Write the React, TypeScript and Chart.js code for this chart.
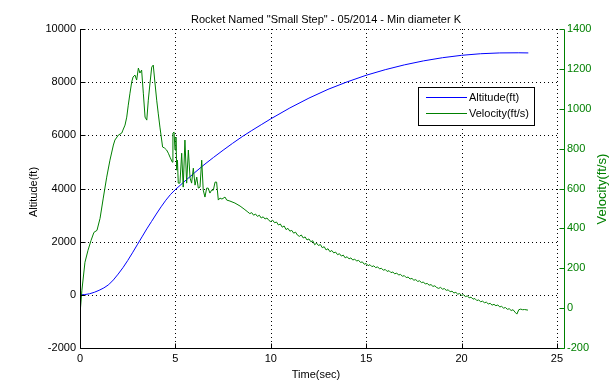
import React, { useEffect, useRef } from "react";
import { Chart, registerables } from "chart.js";

Chart.register(...registerables);

const chartTitle = 'Rocket Named "Small Step" - 05/2014 - Min diameter K';
const xLabel = "Time(sec)";
const altLabel = "Altitude(ft)";
const velLabel = "Velocity(ft/s)";
const seriesNames = ["Altitude(ft)", "Velocity(ft/s)"];

const xTicks = [0, 5, 10, 15, 20, 25];
const altTicks = [-2000, 0, 2000, 4000, 6000, 8000, 10000];
const velTicks = [-200, 0, 200, 400, 600, 800, 1000, 1200, 1400];

const altTime = [0, 0.25, 0.5, 0.75, 1, 1.25, 1.5, 1.75, 2, 2.25, 2.5, 2.75, 3, 3.25, 3.5, 3.75, 4, 4.25, 4.5, 4.75, 5, 5.5, 6, 6.5, 7, 7.5, 8, 8.5, 9, 9.5, 10, 11, 12, 13, 14, 15, 16, 17, 18, 19, 20, 21, 22, 23, 23.5];
const altValues = [0, 10, 40, 95, 170, 260, 380, 560, 780, 1020, 1290, 1580, 1880, 2180, 2480, 2760, 3040, 3310, 3560, 3780, 3960, 4280, 4590, 4890, 5170, 5440, 5700, 5950, 6180, 6400, 6620, 7030, 7400, 7730, 8010, 8260, 8470, 8650, 8800, 8920, 9010, 9070, 9100, 9105, 9100];

const velTime = [0, 0.1, 0.26, 0.42, 0.58, 0.73, 0.89, 1.05, 1.22, 1.4, 1.57, 1.75, 1.83, 2.01, 2.19, 2.25, 2.36, 2.45, 2.53, 2.62, 2.71, 2.78, 2.88, 2.97, 3.06, 3.14, 3.23, 3.32, 3.41, 3.5, 3.58, 3.67, 3.76, 3.84, 3.93, 4.02, 4.1, 4.19, 4.33, 4.43, 4.54, 4.63, 4.72, 4.84, 4.87, 4.93, 4.98, 5.03, 5.07, 5.11, 5.15, 5.24, 5.33, 5.41, 5.5, 5.59, 5.68, 5.77, 5.85, 5.94, 6.03, 6.12, 6.2, 6.29, 6.38, 6.46, 6.55, 6.64, 6.72, 6.81, 6.9, 6.99, 7.08, 7.16, 7.25, 7.34, 7.44, 7.6, 7.69, 7.86, 8.12, 8.39, 8.6,
  8.8, 8.9, 9.0, 9.1, 9.2, 9.3, 9.4, 9.5, 9.6, 9.7, 9.8, 9.9, 10.0, 10.1, 10.2, 10.3, 10.4, 10.5, 10.6, 10.7, 10.8, 10.9, 11.0, 11.1, 11.2, 11.3, 11.4, 11.5, 11.6, 11.7, 11.8, 11.9, 12.0, 12.1, 12.2, 12.3, 12.4, 12.5, 12.6, 12.7, 12.8, 12.9, 13.0, 13.1, 13.2, 13.3, 13.4, 13.5, 13.6, 13.7, 13.8, 13.9, 14.0, 14.1, 14.2, 14.3, 14.4, 14.5, 14.6, 14.7, 14.8, 14.9, 15.0, 15.1, 15.2, 15.3, 15.4, 15.5, 15.6, 15.7, 15.8, 15.9, 16.0, 16.1, 16.2, 16.3, 16.4, 16.5, 16.6, 16.7, 16.8, 16.9, 17.0, 17.1, 17.2, 17.3, 17.4, 17.5, 17.6, 17.7, 17.8, 17.9, 18.0, 18.1, 18.2, 18.3, 18.4, 18.5, 18.6, 18.7, 18.8, 18.9, 19.0, 19.1, 19.2, 19.3, 19.4, 19.5, 19.6, 19.7, 19.8, 19.9, 20.0, 20.1, 20.2, 20.3, 20.4, 20.5, 20.6, 20.7, 20.8, 20.9, 21.0, 21.1, 21.2, 21.3, 21.4, 21.5, 21.6, 21.7, 21.8, 21.9, 22.0, 22.1, 22.2, 22.3, 22.4, 22.5, 22.6, 22.7, 22.8, 22.9, 23.0, 23.1, 23.2, 23.3, 23.48];
const velValues = [-30, 90, 230, 290, 340, 380, 390, 450, 552, 657, 742, 818, 843, 868, 878, 893, 918, 958, 1018, 1078, 1134, 1159, 1169, 1144, 1204, 1179, 1194, 1078, 958, 943, 1043, 1129, 1209, 1219, 1129, 1043, 978, 908, 808, 803, 793, 777, 757, 732, 878, 883, 793, 858, 692, 742, 627, 627, 777, 607, 843, 627, 793, 652, 627, 702, 617, 657, 602, 607, 742, 592, 557, 602, 602, 577, 592, 592, 632, 632, 542, 552, 547, 557, 542, 537, 527, 512, 497,
  482, 474, 479, 466, 472, 460, 466, 452, 458, 447, 452, 440, 434, 441, 428, 432, 417, 422, 406, 412, 394, 400, 386, 390, 376, 381, 366, 360, 367, 352, 357, 342, 347, 333, 338, 318, 326, 314, 319, 303, 308, 292, 298, 283, 289, 277, 281, 268, 273, 261, 266, 252, 258, 247, 252, 241, 246, 236, 240, 229, 232, 220, 224, 213, 218, 208, 212, 203, 207, 197, 200, 190, 194, 184, 188, 178, 181, 172, 176, 166, 169, 160, 163, 153, 156, 146, 149, 140, 143, 134, 137, 128, 131, 121, 124, 115, 118, 109, 112, 103, 99, 104, 95, 98, 89, 92, 82, 85, 76, 79, 70, 73, 64, 67, 58, 61, 52, 55, 45, 48, 38, 41, 32, 35, 27, 30, 21, 24, 15, 19, 12, 16, 6, 9, 0, 3, -6, -3, -12, -8, -20, -30, -8, -5, -8, -7, -10];

const BLUE = "#0000ff";
const GREEN = "#008000";
const seriesColors = [BLUE, GREEN];
const FONT = "'Liberation Sans', Arial, Helvetica, sans-serif";

const framePlugin = {
  id: "matlabFrame",
  beforeDatasetsDraw(chart: any) {
    const { ctx, chartArea } = chart;
    const xs = chart.scales.x;
    const ys = chart.scales.y;
    const right25 = Math.round(xs.getPixelForValue(25)) + 0.5;
    ctx.save();
    ctx.strokeStyle = "#000000";
    ctx.lineWidth = 1;
    ctx.setLineDash([1, 3]);
    xTicks.forEach((v) => {
      if (v === 0) return;
      const px = Math.round(xs.getPixelForValue(v)) + 0.5;
      ctx.beginPath();
      ctx.moveTo(px, chartArea.top);
      ctx.lineTo(px, chartArea.bottom);
      ctx.stroke();
    });
    altTicks.forEach((v) => {
      if (v === altTicks[0]) return;
      const py = Math.round(ys.getPixelForValue(v)) + 0.5;
      ctx.beginPath();
      ctx.moveTo(chartArea.left, py);
      ctx.lineTo(right25, py);
      ctx.stroke();
    });
    ctx.restore();
  },
  afterDraw(chart: any) {
    const { ctx, chartArea } = chart;
    const xs = chart.scales.x;
    const ys = chart.scales.y;
    const y1 = chart.scales.y1;
    const L = Math.round(chartArea.left) + 0.5;
    const R = Math.round(chartArea.right) + 0.5;
    const T = Math.round(chartArea.top) + 0.5;
    const B = Math.round(chartArea.bottom) + 0.5;
    const tl = 5;
    ctx.save();
    ctx.setLineDash([]);
    ctx.lineWidth = 1;
    ctx.strokeStyle = "#000000";
    ctx.beginPath();
    ctx.moveTo(L, T);
    ctx.lineTo(L, B);
    ctx.moveTo(L, B);
    ctx.lineTo(R, B);
    altTicks.forEach((v) => {
      const py = Math.round(ys.getPixelForValue(v)) + 0.5;
      ctx.moveTo(L, py);
      ctx.lineTo(L + tl, py);
    });
    xTicks.forEach((v) => {
      const px = Math.round(xs.getPixelForValue(v)) + 0.5;
      ctx.moveTo(px, B);
      ctx.lineTo(px, B - tl);
    });
    ctx.stroke();
    ctx.strokeStyle = GREEN;
    ctx.beginPath();
    ctx.moveTo(R, T);
    ctx.lineTo(R, B);
    velTicks.forEach((v) => {
      const py = Math.round(y1.getPixelForValue(v)) + 0.5;
      ctx.moveTo(R, py);
      ctx.lineTo(R - tl, py);
    });
    ctx.stroke();

    ctx.fillStyle = "#000000";
    ctx.font = `11px ${FONT}`;
    ctx.textAlign = "center";
    ctx.textBaseline = "middle";
    ctx.fillText(chartTitle, 326, 20);
    ctx.fillText(xLabel, 316, 375);
    ctx.save();
    ctx.translate(34, 192);
    ctx.rotate(-Math.PI / 2);
    ctx.fillText(altLabel, 0, 0);
    ctx.restore();
    ctx.save();
    ctx.fillStyle = GREEN;
    ctx.font = `13px ${FONT}`;
    ctx.translate(602, 189);
    ctx.rotate(-Math.PI / 2);
    ctx.fillText(velLabel, 0, 0);
    ctx.restore();

    ctx.fillStyle = "#ffffff";
    ctx.fillRect(418, 87, 117, 39);
    ctx.strokeStyle = "#000000";
    ctx.strokeRect(418.5, 87.5, 116, 38);
    seriesNames.forEach((name, i) => {
      const ly = 97 + i * 16;
      ctx.fillStyle = seriesColors[i];
      ctx.fillRect(426, ly, 41, 1);
      ctx.fillStyle = "#000000";
      ctx.font = `11px ${FONT}`;
      ctx.textAlign = "left";
      ctx.textBaseline = "middle";
      ctx.fillText(name, 469, ly + 0.5);
    });
    ctx.restore();
  },
};

export default function App() {
  const ref = useRef<HTMLCanvasElement | null>(null);
  useEffect(() => {
    document.body.style.margin = "0";
    const canvas = ref.current;
    if (!canvas) return;
    Chart.defaults.font.family = FONT;
    const chart = new Chart(canvas, {
      type: "line",
      data: {
        datasets: [
          {
            label: seriesNames[0],
            data: altTime.map((t, i) => ({ x: t, y: altValues[i] })),
            borderColor: BLUE,
            backgroundColor: BLUE,
            borderWidth: 1,
            pointRadius: 0,
            tension: 0,
            yAxisID: "y",
            order: 1,
          },
          {
            label: seriesNames[1],
            data: velTime.map((t, i) => ({ x: t, y: velValues[i] })),
            borderColor: GREEN,
            backgroundColor: GREEN,
            borderWidth: 1,
            pointRadius: 0,
            tension: 0,
            yAxisID: "y1",
            order: 0,
          },
        ],
      },
      options: {
        responsive: false,
        animation: false,
        events: [],
        layout: { padding: { top: 29, left: 0, right: 0, bottom: 0 } },
        plugins: {
          legend: { display: false },
          title: { display: false },
          tooltip: { enabled: false },
        },
        scales: {
          x: {
            type: "linear",
            min: 0,
            max: 25.37,
            afterBuildTicks: (scale: any) => {
              scale.ticks = xTicks.map((v) => ({ value: v }));
            },
            afterFit: (scale: any) => {
              scale.height = 44;
            },
            grid: { display: false, drawTicks: false },
            border: { display: false },
            ticks: {
              color: "#000000",
              font: { size: 11 },
              padding: 4,
              maxRotation: 0,
              autoSkip: false,
              callback: (v: any) => String(v),
            },
          },
          y: {
            type: "linear",
            position: "left",
            min: -2000,
            max: 10000,
            afterBuildTicks: (scale: any) => {
              scale.ticks = altTicks.map((v) => ({ value: v }));
            },
            afterFit: (scale: any) => {
              scale.width = 80;
            },
            grid: { display: false, drawTicks: false },
            border: { display: false },
            ticks: {
              color: "#000000",
              font: { size: 11 },
              padding: 4,
              callback: (v: any) => String(v),
            },
          },
          y1: {
            type: "linear",
            position: "right",
            min: -200,
            max: 1400,
            afterBuildTicks: (scale: any) => {
              scale.ticks = velTicks.map((v) => ({ value: v }));
            },
            afterFit: (scale: any) => {
              scale.width = 51;
            },
            grid: { display: false, drawTicks: false },
            border: { display: false },
            ticks: {
              color: GREEN,
              font: { size: 11 },
              padding: 3,
              callback: (v: any) => String(v),
            },
          },
        },
      },
      plugins: [framePlugin],
    });
    return () => chart.destroy();
  }, []);
  return (
    <div style={{ width: 615, height: 392, position: "relative" }}>
      <canvas ref={ref} width={615} height={392} style={{ display: "block" }} />
    </div>
  );
}
